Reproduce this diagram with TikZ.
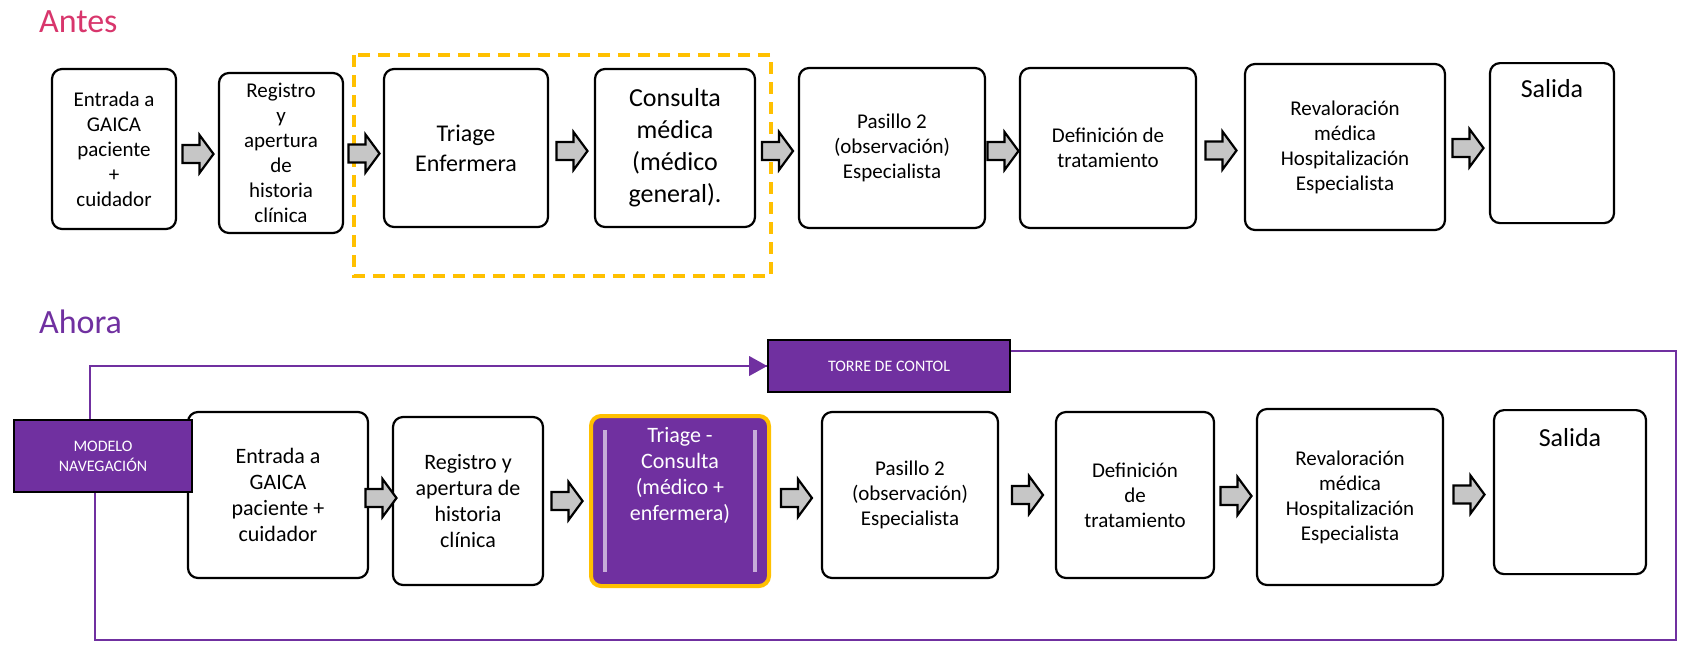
\documentclass[tikz,border=0pt]{standalone}
\usepackage{fontspec}
\setmainfont{Carlito}
\usepackage{tikz}
\usetikzlibrary{calc}
\definecolor{morado}{HTML}{7030A0}
\definecolor{rosa}{HTML}{D8366C}
\definecolor{oro}{HTML}{FFC000}
\tikzset{paso/.style={rectangle, rounded corners=5pt, draw=black, line width=1.1pt, fill=white, align=center, font=\fontsize{10.5}{12.5}\selectfont, inner sep=2pt},
  titulo/.style={font=\fontsize{17}{19}\selectfont, anchor=west},
  caja/.style={rectangle, draw=black, line width=0.8pt, fill=morado, text=white, align=center, font=\fontsize{8}{10}\selectfont},
  flecha/.pic={\draw[line width=1.1pt, fill=gray!45] (-15,-9) -- (2,-9) -- (2,-19) -- (16,0) -- (2,19) -- (2,9) -- (-15,9) -- cycle;}}
\begin{document}
\begin{tikzpicture}[x=0.5pt,y=-0.5pt]
		\useasboundingbox (0,0) rectangle (1691,661);
		\node[titulo, text=rosa] (antes) at (32,22) {Antes};
		\node[titulo, text=morado] (ahora) at (32,322) {Ahora};
		% antes
		\draw[oro, line width=1.6pt, dash pattern=on 6pt off 4pt] (354,55) rectangle (771,276);
		\node[paso, minimum width=62pt, minimum height=80pt] (a1) at (114,149) {Entrada a\\GAICA\\paciente\\+\\cuidador};
		\node[paso, minimum width=62pt, minimum height=80pt] (a2) at (281,153) {Registro\\y\\apertura\\de\\historia\\clínica};
		\node[paso, minimum width=82pt, minimum height=79pt, font=\fontsize{12}{15}\selectfont] (a3) at (466,148) {Triage\\Enfermera};
		\node[paso, minimum width=80pt, minimum height=79pt, font=\fontsize{13}{16}\selectfont] (a4) at (675,148) {Consulta\\médica\\(médico\\general).};
		\node[paso, minimum width=93pt, minimum height=80pt] (a5) at (892,148) {Pasillo 2\\(observación)\\Especialista};
		\node[paso, minimum width=88pt, minimum height=80pt] (a6) at (1108,148) {Definición de\\tratamiento};
		\node[paso, minimum width=100pt, minimum height=83pt] (a7) at (1345,147) {Revaloración\\médica\\Hospitalización\\Especialista};
		\node[paso, minimum width=62pt, minimum height=80pt, font=\fontsize{13}{15}\selectfont, anchor=north] (a8) at (1552,62) {Salida\\[40pt]};
		\foreach \i/\j in {1/2,2/3,3/4,4/5,5/6,6/7,7/8}
			\path ($(a\i.east)!0.5!(a\j.west)$) ++(0,3) coordinate (fa\i) pic {flecha};
		% ahora
		\node[paso, minimum width=90pt, minimum height=83pt, font=\fontsize{11}{13}\selectfont] (b1) at (278,495) {Entrada a\\GAICA\\paciente +\\cuidador};
		\node[paso, minimum width=75pt, minimum height=84pt, font=\fontsize{11}{13}\selectfont] (b2) at (468,501) {Registro y\\apertura de\\historia\\clínica};
		\node[paso, minimum width=89pt, minimum height=85pt, fill=morado, draw=oro, line width=2pt, text=white, font=\fontsize{11}{13}\selectfont] (b3) at (680,501) {Triage -\\Consulta\\(médico +\\enfermera)\\[14pt]};
		\draw[white!60!morado, line width=2pt] ([xshift=8pt,yshift=-8pt]b3.north west) -- ([xshift=8pt,yshift=8pt]b3.south west);
		\draw[white!60!morado, line width=2pt] ([xshift=-8pt,yshift=-8pt]b3.north east) -- ([xshift=-8pt,yshift=8pt]b3.south east);
		\node[paso, minimum width=88pt, minimum height=83pt] (b4) at (910,495) {Pasillo 2\\(observación)\\Especialista};
		\node[paso, minimum width=79pt, minimum height=83pt] (b5) at (1135,495) {Definición\\de\\tratamiento};
		\node[paso, minimum width=93pt, minimum height=88pt] (b6) at (1350,497) {Revaloración\\médica\\Hospitalización\\Especialista};
		\node[paso, minimum width=76pt, minimum height=82pt, font=\fontsize{13}{15}\selectfont, anchor=north] (b7) at (1570,409) {Salida\\[40pt]};
		\foreach \i/\j in {1/2,2/3,3/4,4/5,5/6,6/7}
			\path ($(b\i.east)!0.5!(b\j.west)$) coordinate (fb\i) pic {flecha};
		\node[caja, minimum width=89pt, minimum height=36pt] (modelo) at (103,456) {MODELO\\NAVEGACIÓN};
		\node[caja, minimum width=121pt, minimum height=26pt] (torre) at (889,366) {TORRE DE CONTOL};
		% lazo
		\coordinate (esq1) at (90,366);
		\coordinate (esq2) at (95,640);
		\coordinate (esq3) at (1676,640);
		\coordinate (esq4) at (1676,351);
		\draw[morado, line width=1pt] (esq1 |- modelo.north) -- (esq1) -- (torre.west);
		\fill[morado] (torre.west) -- ++(-18,-10) -- ++(0,20) -- cycle;
		\draw[morado, line width=1pt] (esq2 |- modelo.south) -- (esq2) -- (esq3) -- (esq4) -- (torre.east |- esq4);
\end{tikzpicture}
\end{document}
